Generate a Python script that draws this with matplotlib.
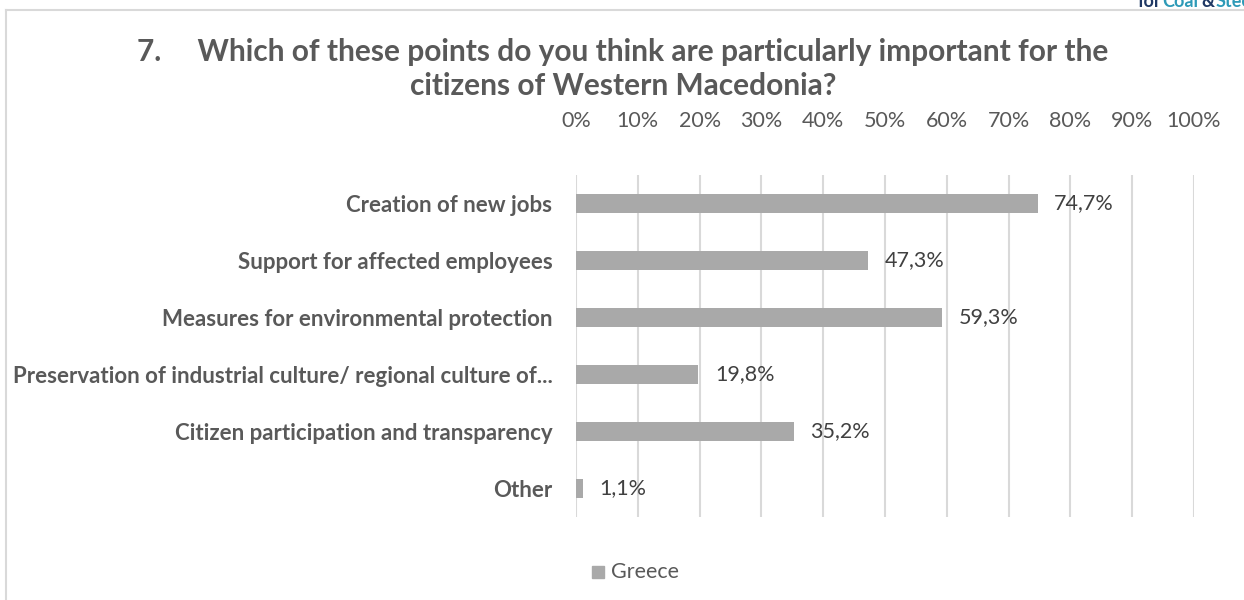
import matplotlib.pyplot as plt
from matplotlib.patches import Rectangle
import matplotlib.lines as mlines

plt.rcParams['font.family'] = ['Lato', 'DejaVu Sans']

# survey answers, share of respondents (%)
categories = ['Creation of new jobs',
              'Support for affected employees',
              'Measures for environmental protection',
              'Preservation of industrial culture/ regional culture of...',
              'Citizen participation and transparency',
              'Other']
greece = [74.7, 47.3, 59.3, 19.8, 35.2, 1.1]
tick_values = [0, 10, 20, 30, 40, 50, 60, 70, 80, 90, 100]
tick_labels = ['{}%'.format(v) for v in tick_values]

title_text = ('7.     Which of these points do you think are particularly important for the\n'
              'citizens of Western Macedonia?')

text_grey = '#595959'
bar_grey = '#a9a9a9'
grid_grey = '#d9d9d9'

W, H = 1244, 600
fig = plt.figure(figsize=(W / 100, H / 100), dpi=100)

# outer frame of the chart object
fig.add_artist(mlines.Line2D([6 / W, 6 / W], [0, 1 - 10 / H], color='#d9d9d9', lw=1.5))
fig.add_artist(mlines.Line2D([6 / W, 1], [1 - 10 / H, 1 - 10 / H], color='#d9d9d9', lw=1.5))

# page header running off the top corner
hdr_y = 1 - 7 / H
for x, word, col in [(1138, 'for', '#1f3864'), (1162, 'Coal', '#2e9ab7'),
                     (1201, '&', '#1f3864'), (1216, 'Steel', '#2e9ab7')]:
    fig.text(x / W, hdr_y, word, color=col, fontsize=13, fontweight='bold',
             ha='left', va='baseline')

fig.text(623 / W, 1 - 69 / H, title_text, ha='center', va='center', fontsize=21.5,
         fontweight='bold', color=text_grey, linespacing=1.3)

ax = fig.add_axes([576 / W, 1 - 517 / H, 618 / W, 342 / H])
y_pos = list(range(len(categories)))
ax.barh(y_pos, greece, height=0.35, color=bar_grey, zorder=3)
ax.set_ylim(len(categories) - 0.5, -0.5)
ax.set_xlim(0, 100)

ax.set_xticks(tick_values)
ax.set_xticklabels(tick_labels)
ax.xaxis.tick_top()
ax.tick_params(axis='x', length=0, pad=32, labelsize=15.5, labelcolor=text_grey)
ax.set_yticks(y_pos)
ax.set_yticklabels(categories, fontweight='bold')
ax.tick_params(axis='y', length=0, pad=17, labelsize=16, labelcolor=text_grey)

ax.grid(axis='x', color=grid_grey, lw=1.5, zorder=0)
for s in ax.spines.values():
    s.set_visible(False)

for y, v in zip(y_pos, greece):
    ax.text(v + 2.7, y, '{:.1f}%'.format(v).replace('.', ','), va='center', ha='left',
            fontsize=15.5, color='#404040', zorder=4)

# legend
fig.add_artist(Rectangle((592 / W, 1 - 578 / H), 12 / W, 12 / H, color=bar_grey,
                         transform=fig.transFigure))
fig.text(611 / W, 1 - 572 / H, 'Greece', ha='left', va='center', fontsize=15.5, color=text_grey)

fig.savefig('out.png', dpi=100)
